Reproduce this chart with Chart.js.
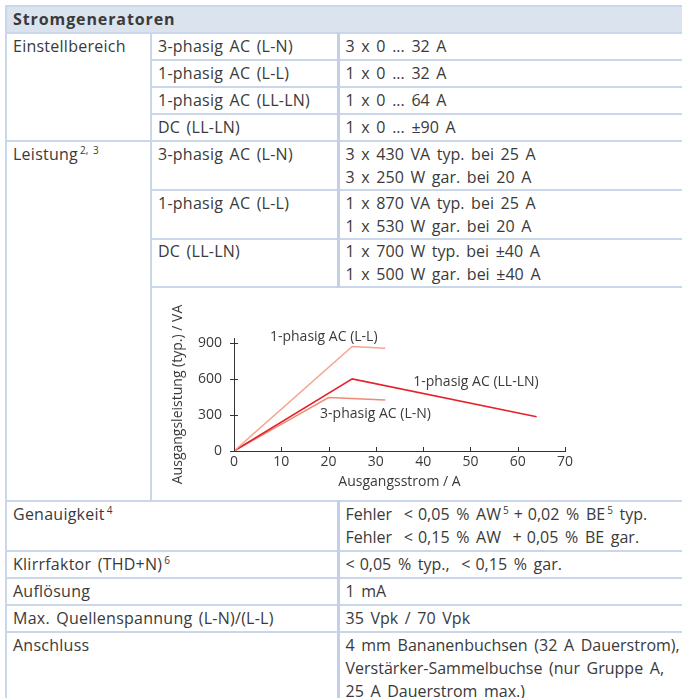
<!DOCTYPE html>
<html>
<head>
<meta charset="utf-8">
<script src="https://cdn.jsdelivr.net/npm/chart.js@4.4.1/dist/chart.umd.min.js"></script>
<style>
  html, body { margin: 0; padding: 0; background: #fff; overflow: hidden; }
  body { width: 682px; height: 698px; position: relative; font-family: "Open Sans", sans-serif; color: #3a3a3a; }
  table { position: absolute; left: 5px; top: 5px; width: 700px; border-collapse: collapse; table-layout: fixed; font-size: 16px; }
  td { border: 2px solid #cad6ea; padding: 1px 6px; line-height: 23px; vertical-align: top; white-space: nowrap; letter-spacing: 0.25px; word-spacing: 2px; }
  td.v { border-left: 3px solid #c3d0e7; letter-spacing: 0; word-spacing: 2.5px; }
  tr.two td { padding-bottom: 0; }
  tr.two2 td { padding-top: 0; padding-bottom: 0; }
  tr.head td { background: #dbe3ef; font-weight: bold; letter-spacing: 0.9px; word-spacing: 0; }
  sup { font-size: 10px; vertical-align: 0; position: relative; top: -6px; line-height: 0; margin-left: 2px; letter-spacing: 0; }
  .op { margin: 0 5px; }
  td.chartcell { padding: 0; height: 212px; }
  #chartbox { position: absolute; left: 152px; top: 285px; width: 530px; height: 215px; }
</style>
</head>
<body>
<table>
  <colgroup><col style="width:145px"><col style="width:187px"><col></colgroup>
  <tr class="head"><td colspan="3">Stromgeneratoren</td></tr>
  <tr><td rowspan="4">Einstellbereich</td><td>3-phasig AC (L-N)</td><td class="v">3 x 0 ... 32 A</td></tr>
  <tr><td>1-phasig AC (L-L)</td><td class="v">1 x 0 ... 32 A</td></tr>
  <tr><td>1-phasig AC (LL-LN)</td><td class="v">1 x 0 ... 64 A</td></tr>
  <tr><td>DC (LL-LN)</td><td class="v">1 x 0 ... ±90 A</td></tr>
  <tr class="two"><td rowspan="4">Leistung<sup>2, 3</sup></td><td>3-phasig AC (L-N)</td><td class="v">3 x 430 VA typ. bei 25 A<br>3 x 250 W gar. bei 20 A</td></tr>
  <tr class="two"><td>1-phasig AC (L-L)</td><td class="v">1 x 870 VA typ. bei 25 A<br>1 x 530 W gar. bei 20 A</td></tr>
  <tr class="two2"><td>DC (LL-LN)</td><td class="v">1 x 700 W typ. bei ±40 A<br>1 x 500 W gar. bei ±40 A</td></tr>
  <tr><td colspan="2" class="chartcell"></td></tr>
  <tr><td colspan="2">Genauigkeit<sup>4</sup></td><td class="v">Fehler <span class="op">&lt;</span>0,05 % AW<sup>5</sup><span class="op">+</span>0,02 % BE<sup>5</sup> typ.<br>Fehler <span class="op">&lt;</span>0,15 % AW <span class="op">+</span>0,05 % BE gar.</td></tr>
  <tr><td colspan="2">Klirrfaktor (THD+N)<sup>6</sup></td><td class="v"><span class="op" style="margin-left:0">&lt;</span>0,05 % typ., <span class="op">&lt;</span>0,15 % gar.</td></tr>
  <tr><td colspan="2">Auflösung</td><td class="v">1 mA</td></tr>
  <tr><td colspan="2">Max. Quellenspannung (L-N)/(L-L)</td><td class="v">35 Vpk / 70 Vpk</td></tr>
  <tr><td colspan="2">Anschluss</td><td class="v">4 mm Bananenbuchsen (32 A Dauerstrom),<br>Verstärker-Sammelbuchse (nur Gruppe A,<br>25 A Dauerstrom max.)</td></tr>
</table>
<div id="chartbox"><canvas id="chart"></canvas></div>
<script>
// output current (A) and typical output power (VA) per mode
var currentLL = [0, 25, 32];
var powerLL = [0, 870, 855];
var currentLLLN = [0, 25, 64];
var powerLLLN = [0, 600, 285];
var current3P = [0, 20, 32];
var power3P = [0, 445, 425];

var yTicks = [0, 300, 600, 900];
var xTicks = [0, 10, 20, 30, 40, 50, 60, 70];

var seriesNames = ["1-phasig AC (L-L)", "1-phasig AC (LL-LN)", "3-phasig AC (L-N)"];
// label anchors in data units (left edge, vertical middle)
var labelX = [7.6, 37.9, 18.2];
var labelY = [948, 574, 308];

var xTitle = "Ausgangsstrom / A";
var yTitle = "Ausgangsleistung (typ.) / VA";

function pts(xs, ys) {
  return xs.map(function (x, i) { return { x: x, y: ys[i] }; });
}

var textColor = "#3a3a3a";

var extras = {
  id: "extras",
  afterDraw: function (chart) {
    var c = chart.ctx, xs = chart.scales.x, ys = chart.scales.y, a = chart.chartArea;
    c.save();
    c.strokeStyle = "#333";
    c.lineWidth = 1;
    // tick marks crossing the axes
    xTicks.forEach(function (v) {
      var px = Math.round(xs.getPixelForValue(v)) + 0.5;
      c.beginPath(); c.moveTo(px, a.bottom - 4); c.lineTo(px, a.bottom); c.stroke();
    });
    yTicks.forEach(function (v) {
      var py = Math.round(ys.getPixelForValue(v)) + 0.5;
      c.beginPath(); c.moveTo(a.left - 4, py); c.lineTo(a.left + 4, py); c.stroke();
    });
    // y title
    c.fillStyle = textColor;
    c.font = "14px 'Open Sans'";
    c.textAlign = "center";
    c.textBaseline = "middle";
    c.translate(26, (a.top + a.bottom) / 2);
    c.rotate(-Math.PI / 2);
    c.fillText(yTitle, 0, 0);
    c.restore();
    // series labels
    c.save();
    c.fillStyle = textColor;
    c.font = "14px 'Open Sans'";
    c.textAlign = "left";
    c.textBaseline = "middle";
    seriesNames.forEach(function (n, i) {
      c.fillText(n, xs.getPixelForValue(labelX[i]), ys.getPixelForValue(labelY[i]));
    });
    c.restore();
  }
};

new Chart(document.getElementById("chart"), {
  type: "line",
  data: {
    datasets: [
      { label: seriesNames[0], data: pts(currentLL, powerLL), borderColor: "#f5a58f", borderWidth: 1.5 },
      { label: seriesNames[1], data: pts(currentLLLN, powerLLLN), borderColor: "#e42229", borderWidth: 1.6 },
      { label: seriesNames[2], data: pts(current3P, power3P), borderColor: "#ef8c78", borderWidth: 1.5 }
    ]
  },
  options: {
    responsive: true,
    maintainAspectRatio: false,
    animation: false,
    layout: { padding: { top: 53, right: 117, left: 0, bottom: 0 } },
    elements: { point: { radius: 0 }, line: { tension: 0 } },
    plugins: { legend: { display: false }, tooltip: { enabled: false } },
    scales: {
      x: {
        type: "linear",
        min: 0, max: 70,
        afterFit: function (s) { s.height = 49; },
        afterBuildTicks: function (s) { s.ticks = xTicks.map(function (v) { return { value: v }; }); },
        grid: { display: false, drawTicks: false },
        border: { display: true, color: "#333", width: 1 },
        ticks: { color: textColor, font: { family: "Open Sans", size: 14 }, padding: 3, maxRotation: 0 },
        title: { display: true, text: xTitle, color: textColor, font: { family: "Open Sans", size: 14 }, padding: { top: 0, bottom: 10 } }
      },
      y: {
        type: "linear",
        min: 0, max: 940,
        afterFit: function (s) { s.width = 82; },
        afterBuildTicks: function (s) { s.ticks = yTicks.map(function (v) { return { value: v }; }); },
        grid: { display: false, drawTicks: false },
        border: { display: true, color: "#333", width: 1 },
        ticks: { color: textColor, font: { family: "Open Sans", size: 14 }, padding: 12 }
      }
    }
  },
  plugins: [extras]
});
</script>
</body>
</html>
